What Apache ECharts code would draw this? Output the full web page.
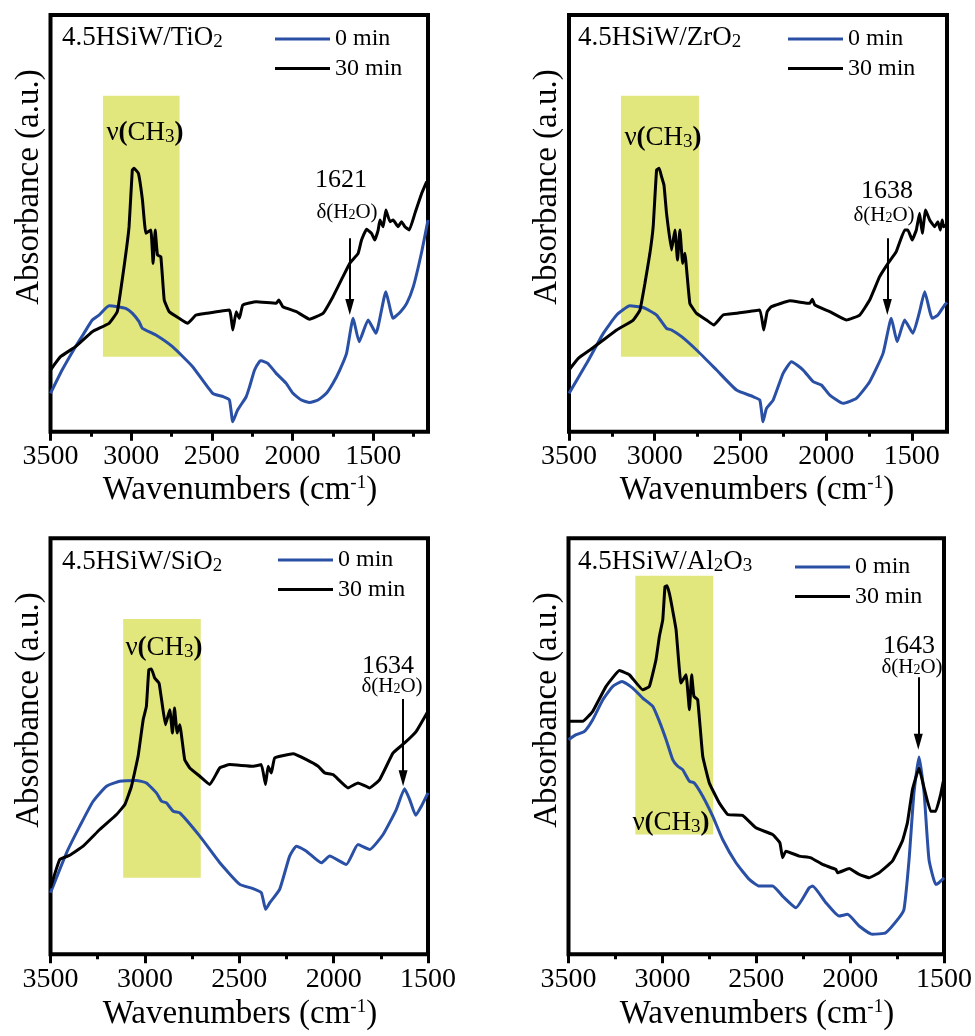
<!DOCTYPE html>
<html>
<head>
<meta charset="utf-8">
<script src="https://cdn.jsdelivr.net/npm/echarts@6/dist/echarts.min.js"></script>
<style>
  html, body { margin: 0; padding: 0; background: #fff; }
  #main { width: 975px; height: 1036px; }
</style>
</head>
<body>
<div id="main"></div>
<script>
// ---- data (wavenumber in cm-1, absorbance in arbitrary units 0-100) ----
const majorTicks = [3500, 3000, 2500, 2000, 1500]
const minorTicks = [3250, 2750, 2250, 1750, 1250]
const seriesNames = ['0 min', '30 min']

// 4.5HSiW/TiO2
const tiWn0 = [3500, 3428, 3345, 3293, 3241, 3199, 3137, 3085, 3034, 2992,
  2951, 2930, 2847, 2744, 2619, 2495, 2430, 2391, 2370, 2340,
  2287, 2266, 2235, 2205, 2194, 2153, 2101, 2039, 1997, 1945,
  1894, 1842, 1790, 1749, 1707, 1665, 1624, 1587, 1531, 1483,
  1421, 1376, 1330, 1292, 1251, 1200, 1160]
const tiAbs0 = [9.2, 14.8, 20.4, 23.6, 26.8, 28.0, 30.2, 30.0, 29.6, 28.4,
  26.4, 24.8, 23.2, 20.4, 15.6, 9.2, 8.4, 7.6, 2.4, 5.2,
  8.4, 10.8, 14.8, 16.8, 17.0, 16.4, 14.0, 11.6, 9.2, 7.6,
  7.0, 7.6, 9.2, 11.6, 14.8, 18.8, 27.2, 21.6, 26.8, 23.6,
  33.6, 27.2, 28.8, 30.8, 34.8, 43.0, 50.8]
const tiWn30 = [3500, 3438, 3345, 3241, 3137, 3086, 3044, 3013, 2993, 2982,
  2955, 2930, 2909, 2878, 2864, 2851, 2837, 2816, 2795, 2764,
  2702, 2650, 2598, 2536, 2391, 2370, 2349, 2329, 2308, 2225,
  2101, 2085, 2060, 1976, 1894, 1811, 1749, 1687, 1645, 1593,
  1572, 1541, 1510, 1490, 1469, 1458, 1438, 1421, 1396, 1376,
  1345, 1324, 1303, 1276, 1241, 1199, 1168]
const tiAbs30 = [14.8, 18.0, 20.4, 24.0, 26.0, 28.8, 39.6, 49.2, 62.8, 63.2,
  62.0, 55.6, 47.6, 48.4, 40.4, 48.4, 42.4, 42.0, 31.6, 28.8,
  27.2, 26.0, 28.0, 28.4, 29.2, 24.4, 28.8, 27.2, 30.4, 31.2,
  30.8, 31.6, 30.0, 28.8, 27.0, 28.4, 32.4, 37.2, 40.4, 42.8,
  46.0, 48.6, 47.6, 46.0, 48.4, 50.8, 49.2, 53.2, 50.4, 50.8,
  49.2, 50.4, 49.2, 48.4, 52.4, 57.2, 60.0]
const tiBox = [3175, 2700, 18.0, 80.6]
const tiArrow = [1645, 46.4, 28.0]

// 4.5HSiW/ZrO2
const zrWn0 = [3500, 3397, 3300, 3222, 3145, 3067, 2989, 2931, 2902, 2843,
  2756, 2639, 2523, 2426, 2387, 2368, 2348, 2309, 2251, 2202,
  2134, 2076, 2028, 1979, 1901, 1824, 1746, 1668, 1620, 1586,
  1542, 1494, 1455, 1425, 1381, 1348, 1309, 1295]
const zrAbs0 = [9.2, 16.4, 23.6, 28.0, 30.2, 29.8, 28.0, 24.8, 24.4, 22.8,
  19.6, 14.8, 10.0, 8.4, 7.6, 2.4, 5.6, 7.6, 14.0, 16.8,
  14.8, 12.0, 11.2, 8.8, 6.8, 8.0, 12.0, 18.8, 27.2, 21.6,
  26.8, 23.6, 28.8, 33.6, 27.2, 28.0, 30.4, 31.0]
const zrWn30 = [3500, 3446, 3378, 3300, 3222, 3125, 3086, 3057, 3028, 3009,
  2989, 2974, 2960, 2946, 2931, 2902, 2882, 2867, 2853, 2837,
  2824, 2795, 2756, 2698, 2655, 2601, 2523, 2387, 2364, 2344,
  2319, 2212, 2096, 2080, 2066, 1979, 1882, 1804, 1746, 1688,
  1639, 1591, 1542, 1523, 1498, 1474, 1455, 1439, 1420, 1396,
  1367, 1348, 1334, 1323, 1315, 1300]
const zrAbs30 = [14.8, 17.6, 19.6, 22.0, 24.4, 26.8, 29.2, 35.6, 42.8, 49.2,
  62.8, 63.2, 61.2, 59.2, 52.4, 43.6, 48.4, 41.2, 48.4, 40.4,
  42.8, 30.8, 28.4, 26.8, 25.6, 28.0, 28.4, 29.2, 24.4, 28.8,
  30.0, 31.4, 30.8, 31.8, 30.4, 28.8, 26.8, 28.0, 31.6, 37.2,
  40.4, 43.2, 48.4, 48.4, 46.0, 48.4, 52.4, 47.6, 53.2, 50.8,
  49.2, 50.4, 48.4, 50.8, 49.2, 49.6]
const zrBox = [3197, 2742, 18.0, 80.6]
const zrArrow = [1643, 46.4, 28.0]

// 4.5HSiW/SiO2
const siWn0 = [3500, 3415, 3345, 3274, 3203, 3133, 3045, 2992, 2939, 2912,
  2886, 2850, 2815, 2709, 2603, 2497, 2427, 2383, 2360, 2338,
  2286, 2233, 2197, 2144, 2065, 2021, 1933, 1871, 1809, 1738,
  1668, 1624, 1597, 1565, 1535, 1500]
const siAbs0 = [14.8, 24.4, 30.8, 36.8, 40.4, 41.6, 41.8, 41.2, 38.8, 36.8,
  36.4, 34.4, 34.0, 28.4, 22.0, 16.8, 15.8, 14.8, 10.8, 12.4,
  15.6, 23.6, 26.0, 24.8, 22.0, 23.6, 21.6, 26.4, 25.2, 28.8,
  34.8, 39.8, 37.2, 33.4, 35.6, 38.8]
const siWn30 = [3500, 3451, 3398, 3327, 3239, 3150, 3106, 3071, 3036, 3009,
  2992, 2979, 2965, 2948, 2925, 2909, 2891, 2868, 2854, 2843,
  2829, 2815, 2789, 2762, 2709, 2656, 2603, 2550, 2427, 2383,
  2361, 2347, 2330, 2312, 2215, 2144, 2082, 2047, 2003, 1924,
  1871, 1809, 1756, 1685, 1624, 1562, 1500]
const siAbs30 = [16.0, 22.8, 23.8, 26.0, 30.0, 33.6, 36.0, 40.4, 47.6, 56.4,
  59.6, 68.4, 68.6, 66.4, 65.2, 60.4, 55.2, 58.8, 53.2, 59.2,
  53.2, 55.2, 46.8, 44.8, 42.8, 40.8, 44.8, 45.6, 45.2, 45.6,
  40.8, 45.2, 43.6, 47.2, 48.2, 46.8, 45.2, 43.6, 43.2, 40.0,
  41.2, 40.0, 42.0, 48.4, 50.8, 53.6, 58.4]
const siBox = [3115, 2704, 18.4, 80.6]
const siArrow = [1632, 61.4, 40.4]

// 4.5HSiW/Al2O3
const alWn0 = [3500, 3459, 3415, 3371, 3317, 3264, 3215, 3158, 3105, 3051,
  3016, 2980, 2945, 2918, 2892, 2856, 2830, 2785, 2732, 2679,
  2608, 2537, 2484, 2413, 2360, 2289, 2218, 2200, 2129, 2059,
  2014, 1952, 1881, 1810, 1739, 1713, 1686, 1660, 1633, 1606,
  1580, 1544, 1527, 1500]
const alAbs0 = [51.6, 52.8, 53.6, 56.4, 61.2, 64.4, 65.6, 64.0, 61.6, 59.6,
  56.0, 51.6, 46.8, 45.2, 44.4, 41.6, 41.2, 38.0, 33.2, 27.6,
  22.0, 18.0, 16.4, 16.4, 14.0, 11.2, 16.0, 16.4, 12.4, 9.2,
  9.6, 6.8, 4.8, 5.2, 8.8, 10.8, 22.8, 38.8, 47.4, 38.8,
  22.8, 16.8, 17.2, 18.4]
const alWn30 = [3500, 3424, 3371, 3300, 3229, 3176, 3105, 3069, 3034, 3016,
  2998, 2986, 2975, 2963, 2949, 2927, 2901, 2874, 2856, 2844,
  2832, 2812, 2785, 2750, 2697, 2652, 2573, 2502, 2413, 2374,
  2360, 2342, 2271, 2209, 2147, 2076, 2067, 2005, 1952, 1899,
  1846, 1775, 1722, 1695, 1668, 1633, 1606, 1571, 1544, 1518,
  1500]
const alAbs30 = [56.0, 56.0, 58.4, 64.4, 68.2, 67.2, 63.6, 64.4, 70.8, 76.4,
  80.4, 88.4, 88.6, 86.8, 83.6, 78.0, 65.2, 67.2, 58.8, 67.2,
  62.0, 61.2, 47.6, 41.2, 36.4, 33.6, 33.4, 30.4, 28.8, 26.8,
  23.2, 24.8, 23.6, 23.2, 21.6, 20.4, 19.6, 20.6, 19.2, 18.4,
  19.6, 22.4, 27.2, 31.6, 39.6, 44.8, 40.0, 34.4, 34.4, 38.4,
  42.4]
const alBox = [3144, 2729, 28.8, 91.0]
const alArrow = [1637, 66.6, 49.2]

// ---- styling / layout ----
const FONT = '"Liberation Serif", "Times New Roman", serif'
const BLUE = '#2A50A6'
const YELLOW = '#E1E67D'

const panels = [
  { title: '{n|4.5HSiW/TiO}{s|2}', peak: '1621', xMin: 1160,
    w0: tiWn0, a0: tiAbs0, w30: tiWn30, a30: tiAbs30, box: tiBox, arrow: tiArrow,
    grid: { left: 50.5, top: 15, width: 377.5, height: 416.7 },
    pos: { title: [62, 38], legend: [275, 26], yName: [29, 187], xName: [240, 490],
      peak: [341, 180], delta: [347, 212], nu: [145, 133] } },
  { title: '{n|4.5HSiW/ZrO}{s|2}', peak: '1638', xMin: 1295,
    w0: zrWn0, a0: zrAbs0, w30: zrWn30, a30: zrAbs30, box: zrBox, arrow: zrArrow,
    grid: { left: 569, top: 15, width: 378, height: 416.7 },
    pos: { title: [578, 38], legend: [788, 26], yName: [547, 187], xName: [757, 490],
      peak: [887, 191], delta: [884, 215], nu: [663, 138] } },
  { title: '{n|4.5HSiW/SiO}{s|2}', peak: '1634', xMin: 1500,
    w0: siWn0, a0: siAbs0, w30: siWn30, a30: siAbs30, box: siBox, arrow: siArrow,
    grid: { left: 50.5, top: 538.3, width: 377.5, height: 416 },
    pos: { title: [62, 562], legend: [278, 547], yName: [29, 710], xName: [240, 1014],
      peak: [388, 666], delta: [392, 686], nu: [164, 648] } },
  { title: '{n|4.5HSiW/Al}{s|2}{n|O}{s|3}', peak: '1643', xMin: 1500,
    w0: alWn0, a0: alAbs0, w30: alWn30, a30: alAbs30, box: alBox, arrow: alArrow,
    grid: { left: 568.5, top: 538.3, width: 376.5, height: 416 },
    pos: { title: [578, 562], legend: [795, 554], yName: [547, 710], xName: [757, 1014],
      peak: [909, 646], delta: [912, 667], nu: [671, 823] } },
]

const pairs = (w, a) => w.map((x, i) => [x, a[i]])

function txt(x, y, text, size, rich, opts, align) {
  align = align || 'center'
  return Object.assign({
    type: 'text', x: x, y: y, z: 100, silent: true,
    style: {
      text: text, fill: '#000', fontFamily: FONT, fontSize: size,
      align: align, verticalAlign: 'middle',
      textAlign: align, textVerticalAlign: 'middle',
      rich: rich || {}
    }
  }, opts || {})
}

const subRich = (big, small) => ({
  n: { fontFamily: FONT, fontSize: big, color: '#000', verticalAlign: 'bottom' },
  b: { fontFamily: FONT, fontSize: big, fontWeight: 'bold', color: '#000', verticalAlign: 'bottom' },
  s: { fontFamily: FONT, fontSize: small, color: '#000', verticalAlign: 'bottom' }
})

const grids = [], xAxes = [], minorAxes = [], yAxes = [], series = [], legends = [], graphics = []

panels.forEach((p, i) => {
  grids.push(Object.assign({ show: true, borderColor: '#000', borderWidth: 4, backgroundColor: 'transparent' }, p.grid))
  const base = {
    type: 'value', gridIndex: i, inverse: true, min: p.xMin, max: 3500,
    position: 'bottom', splitLine: { show: false }, axisLine: { show: false }
  }
  xAxes.push(Object.assign({}, base, {
    axisTick: { show: true, customValues: majorTicks, length: 9, lineStyle: { color: '#000', width: 3 } },
    axisLabel: { show: true, customValues: majorTicks, margin: 11, color: '#000', fontFamily: FONT, fontSize: 28,
      formatter: v => String(v) }
  }))
  minorAxes.push(Object.assign({}, base, {
    axisTick: { show: true, customValues: minorTicks.filter(v => v > p.xMin), length: 5, lineStyle: { color: '#000', width: 3 } },
    axisLabel: { show: false }
  }))
  yAxes.push({ type: 'value', gridIndex: i, min: 0, max: 100, show: false })

  series.push({
    name: seriesNames[0], type: 'line', xAxisIndex: i, yAxisIndex: i,
    data: pairs(p.w0, p.a0), showSymbol: false, smooth: 0.15, z: 3,
    lineStyle: { color: BLUE, width: 3 }, itemStyle: { color: BLUE },
    markArea: {
      silent: true, z: 1, itemStyle: { color: YELLOW, opacity: 1 },
      data: [[{ coord: [p.box[0], p.box[3]] }, { coord: [p.box[1], p.box[2]] }]]
    }
  })
  series.push({
    name: seriesNames[1], type: 'line', xAxisIndex: i, yAxisIndex: i,
    data: pairs(p.w30, p.a30), showSymbol: false, smooth: 0.1, z: 4,
    lineStyle: { color: '#000', width: 3 }, itemStyle: { color: '#000' },
    markLine: {
      silent: true, symbol: ['none', 'none'], label: { show: false },
      lineStyle: { color: '#000', width: 2, type: 'solid' },
      data: [[{ coord: [p.arrow[0], p.arrow[1]] }, { coord: [p.arrow[0], p.arrow[2] + 2] }]]
    },
    markPoint: {
      silent: true, symbol: 'triangle', symbolSize: [9, 16], symbolRotate: 180, symbolOffset: [0, -8],
      itemStyle: { color: '#000' }, label: { show: false },
      data: [{ coord: [p.arrow[0], p.arrow[2]] }]
    }
  })

  legends.push({
    data: seriesNames, left: p.pos.legend[0], top: p.pos.legend[1], orient: 'vertical', padding: 0,
    icon: 'rect', itemWidth: 55, itemHeight: 3, itemGap: 3.4, selectedMode: false,
    textStyle: { color: '#000', fontFamily: FONT, fontSize: 24, lineHeight: 26 }
  })

  graphics.push(txt(p.pos.title[0], p.pos.title[1], p.title, 27, subRich(27, 19), null, 'left'))
  graphics.push(txt(p.pos.yName[0], p.pos.yName[1], 'Absorbance (a.u.)', 33, null, { rotation: Math.PI / 2 }))
  graphics.push(txt(p.pos.xName[0], p.pos.xName[1], '{n|Wavenumbers (cm}{p|-1}{n|)}', 33, {
    n: { fontFamily: FONT, fontSize: 33, color: '#000', verticalAlign: 'bottom' },
    p: { fontFamily: FONT, fontSize: 19, color: '#000', verticalAlign: 'top' }
  }))
  graphics.push(txt(p.pos.peak[0], p.pos.peak[1], p.peak, 26))
  graphics.push(txt(p.pos.delta[0], p.pos.delta[1], '{n|δ(H}{s|2}{n|O)}', 21, subRich(21, 14)))
  graphics.push(txt(p.pos.nu[0], p.pos.nu[1], '{n|ν}{b|(}{n|CH}{s|3}{b|)}', 27, subRich(27, 19)))
})

const chart = echarts.init(document.getElementById('main'), null, { renderer: 'canvas' })
chart.setOption({
  animation: false,
  backgroundColor: '#fff',
  grid: grids,
  xAxis: xAxes.concat(minorAxes),
  yAxis: yAxes,
  legend: legends,
  series: series,
  graphic: { elements: graphics }
})
</script>
</body>
</html>
